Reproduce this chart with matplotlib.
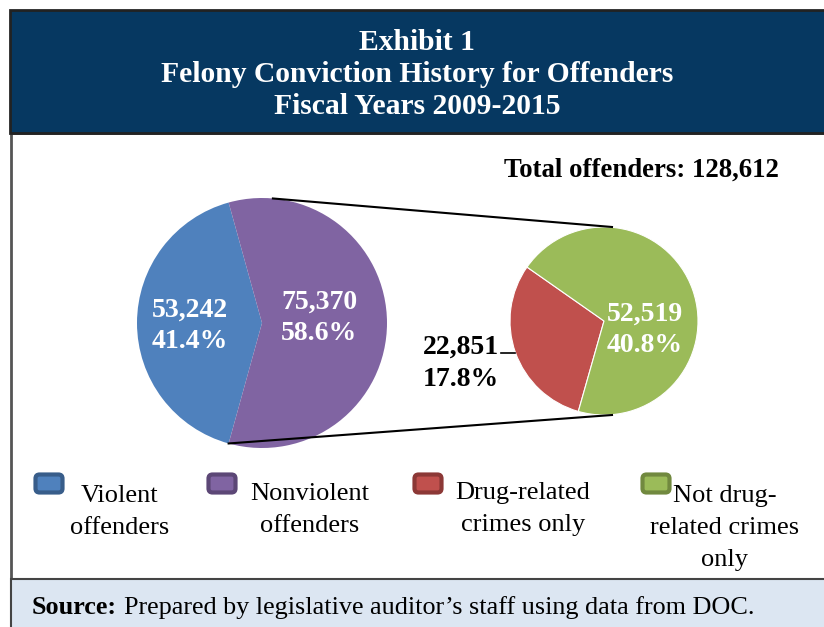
import matplotlib.pyplot as plt
from matplotlib.patches import Rectangle, FancyBboxPatch
import numpy as np

# Dados
titulo = ["Exhibit 1", "Felony Conviction History for Offenders", "Fiscal Years 2009-2015"]
total = 128612
grupos = ["Violent offenders", "Nonviolent offenders"]
valores_grupos = [53242, 75370]
subgrupos = ["Drug-related crimes only", "Not drug-related crimes only"]
valores_sub = [22851, 52519]
legenda = ["Violent\noffenders", "Nonviolent\noffenders", "Drug-related\ncrimes only",
           "Not drug-\nrelated crimes\nonly"]
cores = ["#4F81BD", "#8064A2", "#C0504D", "#9BBB59"]
bordas = ["#385D8A", "#5C4776", "#8C3836", "#71893F"]
fonte = "Source:"
fonte_texto = "Prepared by legislative auditor\u2019s staff using data from DOC."

W, H = 824, 627
plt.rcParams['font.family'] = ['Liberation Serif', 'DejaVu Serif']

fig = plt.figure(figsize=(W / 100, H / 100), dpi=100)
ax = fig.add_axes([0, 0, 1, 1])


def py(y):
    # converte y em pixels (de cima) para coordenada do eixo
    return H - y


# Moldura e cabeçalho
ax.add_patch(Rectangle((11, -10), W, py(133) + 10, facecolor="white",
                       edgecolor="#555555", lw=2, zorder=0))
ax.add_patch(Rectangle((11, -10), W, py(579) + 10, facecolor="#DCE6F2",
                       edgecolor="#444444", lw=1.5, zorder=1))
ax.add_patch(Rectangle((10, py(133)), W, 123, facecolor="#063861",
                       edgecolor="#222222", lw=2, zorder=1))
for i, linha in enumerate(titulo):
    ax.text(417, py(42 + 32 * i), linha, color="white", fontsize=21.3,
            fontweight="bold", ha="center", va="center", zorder=3)

ax.text(779, py(170), f"Total offenders: {total:,}", fontsize=19.3,
        fontweight="bold", ha="right", va="center")

# Pizza principal
c1, r1 = (262, py(323)), 125
frac1 = valores_grupos[0] / sum(valores_grupos)
start1 = 180 - frac1 * 360 / 2
ax.pie(valores_grupos, colors=cores[:2], center=c1, radius=r1,
       startangle=start1, counterclock=True, frame=True,
       wedgeprops=dict(linewidth=0))

# Pizza secundária
c2, r2 = (604, py(321)), 94
ax.pie(valores_sub, colors=cores[2:], center=c2, radius=r2,
       startangle=145, counterclock=True, frame=True,
       wedgeprops=dict(linewidth=0.8, edgecolor="white"))

# Linhas de ligação
a_top = np.deg2rad(85)
ax.plot([c1[0] + r1 * np.cos(a_top), c2[0] + 8], [c1[1] + r1 * np.sin(a_top), c2[1] + r2],
        color="black", lw=1.5)
a_bot = np.deg2rad(start1 + frac1 * 360)
ax.plot([c1[0] + r1 * np.cos(a_bot), c2[0] + 8], [c1[1] + r1 * np.sin(a_bot), c2[1] - r2],
        color="black", lw=1.5)

# Rótulos
def rotulo(v):
    return f"{v:,}\n{v / total * 100:.1f}%"

kw = dict(fontsize=20, fontweight="bold", va="center", linespacing=1.3)
ax.text(190, py(326), rotulo(valores_grupos[0]), color="white", ha="center", **kw)
ax.text(319, py(318), rotulo(valores_grupos[1]), color="white", ha="center", **kw)
ax.text(645, py(330), rotulo(valores_sub[1]), color="white", ha="center", **kw)
ax.text(423, py(363), rotulo(valores_sub[0]), color="black", ha="left",
        fontsize=20, fontweight="bold", va="center", linespacing=1.38)
ax.plot([501, 515], [py(353), py(353)], color="black", lw=1.2)

# Legenda
mx = [35, 208, 414, 642]
tx = [120, 310, 523, 725]
ty = [485, 483, 482, 485]
for i in range(4):
    ax.add_patch(FancyBboxPatch((mx[i] + 3, py(490)), 22, 13,
                                boxstyle="round,pad=2.5,rounding_size=4",
                                facecolor=cores[i], edgecolor=bordas[i], lw=3, zorder=3))
    ax.text(tx[i], py(ty[i]), legenda[i], fontsize=19, ha="center", va="top",
            linespacing=1.6)

# Fonte
t = ax.text(32, py(608), fonte, fontsize=18.8, fontweight="bold", ha="left", va="center",
            zorder=4)
fig.canvas.draw()
bb = t.get_window_extent()
x_fim = ax.transData.inverted().transform((bb.x1, bb.y0))[0]
ax.text(x_fim - 2, py(608), fonte_texto, fontsize=18.8, ha="left", va="center", zorder=4)

ax.set_xlim(0, W)
ax.set_ylim(0, H)
ax.set_aspect("equal")
ax.axis("off")

plt.savefig("out.png", dpi=100)
